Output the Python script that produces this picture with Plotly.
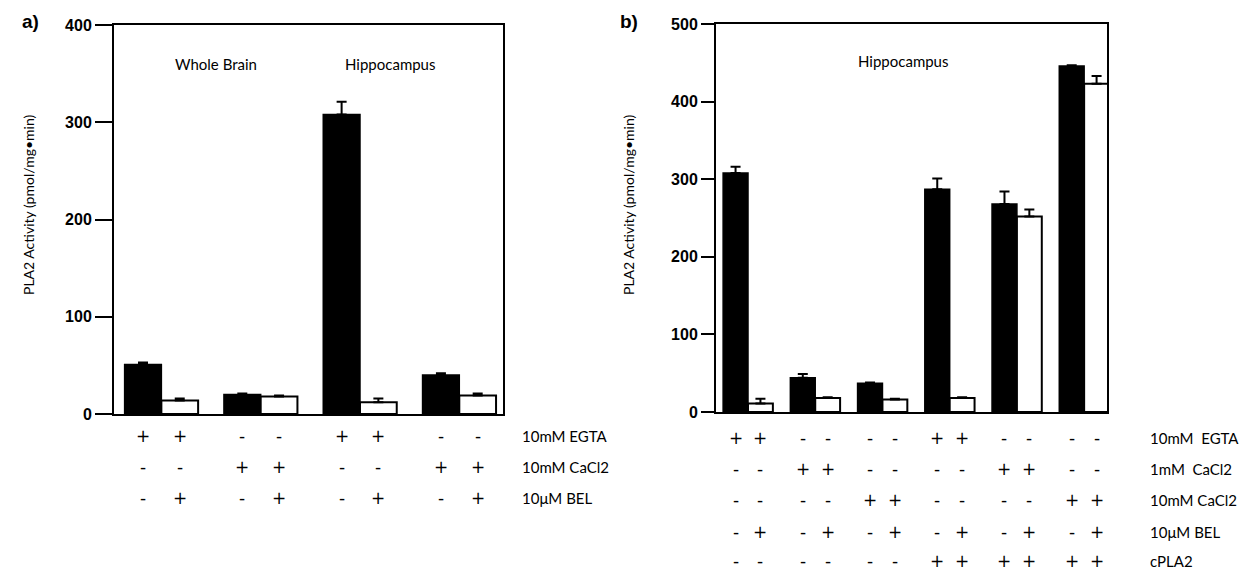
import plotly.graph_objects as go

W, H = 1260, 571

# ---------------- data: panel a ----------------
a_groups = ["WB EGTA", "WB CaCl2", "HC EGTA", "HC CaCl2"]
a_ctrl = [51, 20, 308, 40]
a_ctrl_err = [2, 1, 13, 2]
a_bel = [14, 18, 12, 19]
a_bel_err = [2, 1, 4, 2]
a_row_labels = ["10mM EGTA", "10mM CaCl2", "10\u03bcM BEL"]
a_signs = [
    ["+", "+", "-", "-", "+", "+", "-", "-"],
    ["-", "-", "+", "+", "-", "-", "+", "+"],
    ["-", "+", "-", "+", "-", "+", "-", "+"],
]
a_yticks = [0, 100, 200, 300, 400]

# ---------------- data: panel b ----------------
b_groups = ["EGTA", "1mM CaCl2", "10mM CaCl2", "EGTA+cPLA2", "1mM+cPLA2", "10mM+cPLA2"]
b_ctrl = [308, 44, 37, 287, 268, 446]
b_ctrl_err = [8, 5, 1, 14, 16, 1]
b_bel = [11, 18, 16, 18, 252, 423]
b_bel_err = [6, 1, 1, 1, 9, 10]
b_row_labels = ["10mM  EGTA", "1mM  CaCl2", "10mM CaCl2", "10\u03bcM BEL", "cPLA2"]
b_signs = [
    ["+", "+", "-", "-", "-", "-", "+", "+", "-", "-", "-", "-"],
    ["-", "-", "+", "+", "-", "-", "-", "-", "+", "+", "-", "-"],
    ["-", "-", "-", "-", "+", "+", "-", "-", "-", "-", "+", "+"],
    ["-", "+", "-", "+", "-", "+", "-", "+", "-", "+", "-", "+"],
    ["-", "-", "-", "-", "-", "-", "+", "+", "+", "+", "+", "+"],
]
b_yticks = [0, 100, 200, 300, 400, 500]

ytitle = "PLA2 Activity (pmol/mg\u2022min)"

# ---------------- layout geometry (pixels) ----------------
def px(x):
    return x / W

def py(y):
    return 1 - y / H

BARGAP = 0.26
OFF = (1 - BARGAP) / 4  # centre offset of each bar within a group

fig = go.Figure()

def add_pair(xa, ya, ctrl, ctrl_err, bel, bel_err):
    n = len(ctrl)
    idx = list(range(n))
    fig.add_trace(go.Bar(
        x=idx, y=ctrl, xaxis=xa, yaxis=ya, offsetgroup="c" + xa,
        marker=dict(color="black", line=dict(color="black", width=1.5)),
        error_y=dict(type="data", symmetric=False, array=ctrl_err,
                     arrayminus=[0] * n, color="black", thickness=2, width=5),
        showlegend=False))
    fig.add_trace(go.Bar(
        x=idx, y=bel, xaxis=xa, yaxis=ya, offsetgroup="b" + xa,
        marker=dict(color="white", line=dict(color="black", width=2)),
        error_y=dict(type="data", symmetric=False, array=bel_err,
                     arrayminus=[0] * n, color="black", thickness=2, width=5),
        showlegend=False))

add_pair("x", "y", a_ctrl, a_ctrl_err, a_bel, a_bel_err)
add_pair("x2", "y2", b_ctrl, b_ctrl_err, b_bel, b_bel_err)

tickfont = dict(family="Liberation Sans", size=16, color="black", weight="bold")
axline = dict(showline=True, linecolor="black", linewidth=2, mirror=True,
              showgrid=False, zeroline=False, automargin=False)

fig.update_layout(
    template="none",
    width=W, height=H,
    margin=dict(l=0, r=0, t=0, b=0, pad=0),
    paper_bgcolor="white", plot_bgcolor="white",
    barmode="group", bargap=BARGAP, bargroupgap=0,
    xaxis=dict(domain=[px(114), px(503)], range=[-0.477, 3.44],
               showticklabels=False, ticks="", anchor="y", **axline),
    yaxis=dict(domain=[py(414), py(25)], range=[0, 400], tickvals=a_yticks,
               ticks="outside", ticklen=17, tickwidth=2, tickcolor="black",
               tickfont=tickfont, anchor="x", **axline),
    xaxis2=dict(domain=[px(716), px(1107)], range=[-0.476, 5.34],
                showticklabels=False, ticks="", anchor="y2", **axline),
    yaxis2=dict(domain=[py(412), py(24)], range=[0, 500], tickvals=b_yticks,
                ticks="outside", ticklen=13, tickwidth=2, tickcolor="black",
                tickfont=tickfont, anchor="x2", **axline),
)

ann = []
txtfont = dict(family="Lato", size=15, color="black")

def note(text, x, y, xref="paper", yref="paper", font=txtfont, xanchor="center", **kw):
    ann.append(dict(text=text, x=x, y=y, xref=xref, yref=yref, showarrow=False,
                    xanchor=xanchor, yanchor="middle", font=font, **kw))

# panel letters
letter_font = dict(family="Liberation Sans", size=19, color="black")
note("<b>a)</b>", px(30), py(21), font=letter_font)
note("<b>b)</b>", px(629), py(21), font=letter_font)

# y titles
yt_font = dict(family="Lato", size=14, color="black")
note(ytitle, px(28), py(205), font=yt_font, textangle=-90)
note(ytitle, px(628), py(205), font=yt_font, textangle=-90)

# in-plot headings
head_font = dict(family="Lato", size=15, color="black")
note("Whole Brain", 0.55, 360, "x", "y", font=head_font)
note("Hippocampus", 2.3, 360, "x", "y", font=head_font)
note("Hippocampus", 2.3, 452, "x2", "y2", font=head_font)

symfont = dict(family="DejaVu Sans", size=17, color="black")

def add_table(xref, signs, labels, row_ys, label_x):
    for r, row in enumerate(signs):
        for k, s in enumerate(row):
            g = k // 2
            xpos = g - OFF if k % 2 == 0 else g + OFF
            note(s, xpos, py(row_ys[r]), xref, "paper", font=symfont)
        note(labels[r], px(label_x), py(row_ys[r]), font=txtfont, xanchor="left")

add_table("x", a_signs, a_row_labels, [436, 467, 498], 520)
add_table("x2", b_signs, b_row_labels, [438, 469, 500, 532, 561], 1148)

fig.update_layout(annotations=ann)
fig.write_html("out.html", config={"displayModeBar": False},
               post_script="document.body.style.margin='0px';")
